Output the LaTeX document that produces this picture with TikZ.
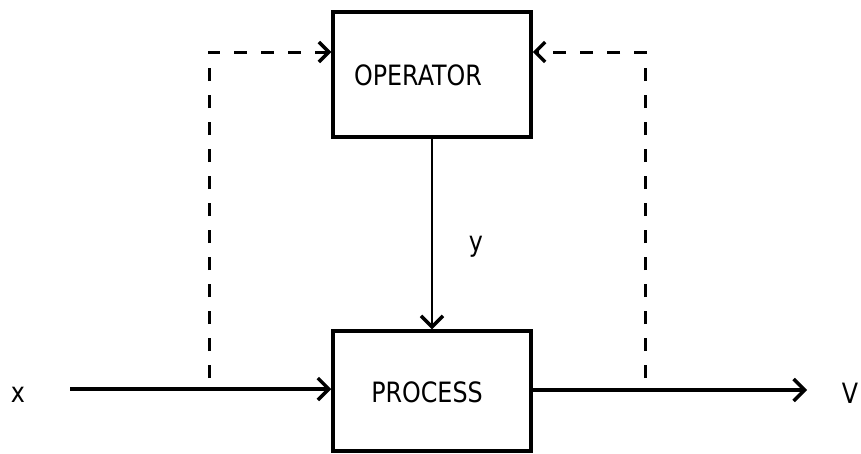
\documentclass[tikz,border=0pt]{standalone}
\usepackage{fontspec}
\setmainfont{DejaVu Sans}[FakeStretch=0.85]
\usetikzlibrary{arrows.meta}
\begin{document}
\begin{tikzpicture}[x=1pt,y=-1pt,
  block/.style={draw,line width=3.5pt,minimum width=198pt,inner sep=0pt},
  lbl/.style={font=\fontsize{28}{30}\selectfont,inner sep=0pt},
  signal/.style={line width=3.5pt,-{Straight Barb[length=11pt,width=22pt,line width=3.5pt]}},
  feedback/.style={line width=3pt,dash pattern=on 13pt off 14pt,
    -{Straight Barb[length=10pt,width=20pt,line width=3.5pt]}},
  command/.style={line width=2.5pt,-{Straight Barb[length=11pt,width=22pt,line width=3.5pt]}}]
\useasboundingbox (0,0) rectangle (861,453);

% blocks
\node[block,minimum height=125pt] (operator) at (432,74.5) {};
\node[block,minimum height=120pt] (process) at (432,391) {};
\node[lbl] (optext) at (418,75) {OPERATOR};
\node[lbl] (prtext) at (427,392) {PROCESS};

% signal labels
\node[lbl] (xin) at (18,395) {x};
\node[lbl] (vout) at (850,393) {V};
\node[lbl] (ylab) at (476,247) {y};

% input and output lines
\coordinate (xstart) at (70,389);
\coordinate (vend) at (807,390);
\draw[signal] (xstart) -- (xstart -| process.west);
\draw[signal] (process.east |- vend) -- (vend);

% operator command
\draw[command] (operator.south) -- (process.north);

% measurement taps to the operator
\coordinate (tapL) at (209,378);
\coordinate (topL) at (209,52);
\coordinate (tapR) at (645,378);
\coordinate (topR) at (645,52);
\draw[feedback] (tapL) -- (topL) -- (topL -| operator.west);
\draw[feedback] (tapR) -- (topR) -- (topR -| operator.east);
\end{tikzpicture}
\end{document}
